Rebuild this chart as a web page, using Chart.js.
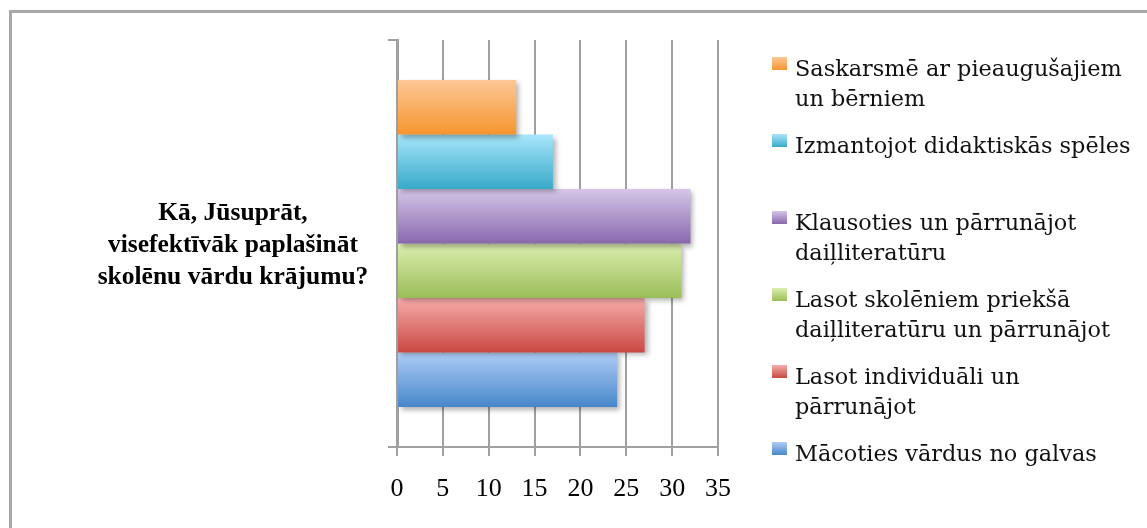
<!DOCTYPE html>
<html lang="lv">
<head>
  <meta charset="UTF-8">
  <title>Vārdu krājums</title>
  <script src="https://cdn.jsdelivr.net/npm/chart.js"></script>
  <style>
    html, body { margin: 0; padding: 0; background: #fff; }
    .wrap { position: relative; width: 1147px; height: 528px; overflow: hidden; }
    .frame { position: absolute; left: 9px; top: 10px; width: 1200px; height: 600px;
             border: 3px solid #a8a8a8; box-sizing: border-box; }
    #grafiks { position: absolute; left: 0; top: 0; }
    .legend { position: absolute; left: 772px; top: 53px; font-family: "DejaVu Serif"; font-size: 22.4px; color: #111; }
    .item { position: relative; height: 77px; padding-left: 23px; line-height: 30px; white-space: nowrap; }
    .sw { position: absolute; left: 0; top: 4px; width: 15px; height: 13px; }
  </style>
</head>
<body>
  <div class="wrap">
    <div class="frame"></div>
    <canvas id="grafiks" width="1147" height="528"></canvas>
    <div class="legend" id="legenda"></div>
  </div>

  <script>
    // jautājums (viena kategorija, rindās)
    const categories = [["Kā, Jūsuprāt,", "visefektīvāk paplašināt", "skolēnu vārdu krājumu?"]];
    // atbilžu varianti, no augšas uz leju
    const seriesNames = [
      ["Saskarsmē ar pieaugušajiem", "un bērniem"],
      ["Izmantojot didaktiskās spēles"],
      ["Klausoties un pārrunājot", "daiļliteratūru"],
      ["Lasot skolēniem priekšā", "daiļliteratūru un pārrunājot"],
      ["Lasot individuāli un", "pārrunājot"],
      ["Mācoties vārdus no galvas"]
    ];
    const seriesValues = [13, 17, 32, 31, 27, 24];
    const xTicks = [0, 5, 10, 15, 20, 25, 30, 35];

    const topColors = ["#fdc896", "#a8e6fb", "#d5c6e8", "#dcefb0", "#f6adaa", "#b0cdf6"];
    const bottomColors = ["#f6952f", "#38a9c9", "#8868ad", "#9abd58", "#ca4843", "#4787c9"];

    const grid = "#a0a0a0";
    const titleFont = { family: "Liberation Serif", size: 25.5, weight: "bold", lineHeight: "32px" };

    // y ass: kategorijas teksts centrēts ap x≈233
    const m = document.createElement("canvas").getContext("2d");
    m.font = "bold 25.5px 'Liberation Serif'";
    let widest = 0;
    categories[0].forEach(t => { widest = Math.max(widest, m.measureText(t).width); });
    const yPad = Math.max(0, 397 - 233 - widest / 2 - 9);

    // legenda
    const leg = document.getElementById("legenda");
    seriesNames.forEach((lines, i) => {
      const d = document.createElement("div");
      d.className = "item";
      d.innerHTML = '<span class="sw" style="background:linear-gradient(' + topColors[i] + ',' + bottomColors[i] + ')"></span>' + lines.join("<br>");
      leg.appendChild(d);
    });

    const barStyle = {
      id: "barStyle",
      beforeDatasetDraw(chart, args) {
        const ctx = chart.ctx;
        const i = args.index;
        args.meta.data.forEach(bar => {
          const top = bar.y - bar.height / 2;
          const g = ctx.createLinearGradient(0, top, 0, top + bar.height);
          g.addColorStop(0, topColors[i]);
          g.addColorStop(1, bottomColors[i]);
          bar.options.backgroundColor = g;
        });
        ctx.save();
        ctx.shadowColor = "rgba(0,0,0,0.3)";
        ctx.shadowBlur = 5;
        ctx.shadowOffsetX = 3;
        ctx.shadowOffsetY = 3;
      },
      afterDatasetDraw(chart) {
        chart.ctx.restore();
      }
    };

    const datasets = seriesNames.map((n, i) => ({
      label: n.join(" "),
      data: [seriesValues[i]],
      backgroundColor: c => bottomColors[c.datasetIndex],
      borderWidth: 0,
      barPercentage: 1,
      categoryPercentage: 0.803
    }));

    new Chart(document.getElementById("grafiks"), {
      type: "bar",
      data: { labels: categories, datasets: datasets },
      options: {
        indexAxis: "y",
        responsive: false,
        animation: false,
        events: [],
        layout: { padding: { left: 10, top: 40, right: 429, bottom: 0 } },
        plugins: { legend: { display: false }, tooltip: { enabled: false } },
        scales: {
          x: {
            min: 0, max: 35,
            afterBuildTicks: s => { s.ticks = xTicks.map(v => ({ value: v })); },
            afterFit: s => { s.height = 81; },
            grid: { color: grid, lineWidth: 2, tickLength: 9 },
            border: { color: grid, width: 2 },
            ticks: { color: "#000", padding: 18, maxRotation: 0,
                     font: { family: "Liberation Serif", size: 26 } }
          },
          y: {
            afterFit: s => { s.width = 387; s.paddingTop = 0; s.paddingBottom = 0; },
            grid: { color: grid, lineWidth: 2, tickLength: 9, drawOnChartArea: false },
            border: { color: grid, width: 3 },
            ticks: { color: "#000", crossAlign: "center", padding: yPad, labelOffset: 2, font: titleFont }
          }
        }
      },
      plugins: [barStyle]
    });
  </script>
</body>
</html>
